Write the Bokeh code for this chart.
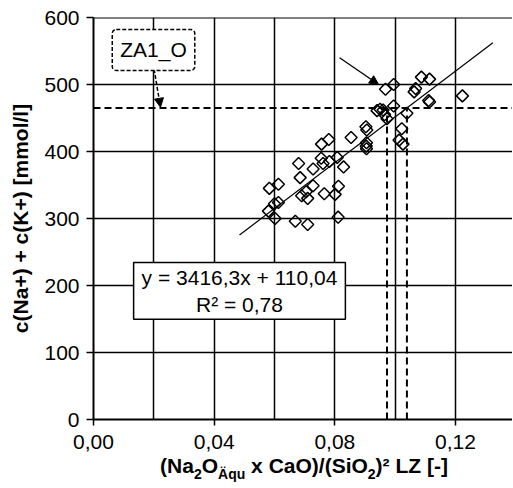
import numpy as np
from bokeh.plotting import figure
from bokeh.layouts import column
from bokeh.models import (Range1d, FixedTicker, CustomJSTickFormatter, Span, Label,
                          Arrow, NormalHead, Div)
from bokeh.embed import file_html
from bokeh.resources import INLINE

# ---- data ----
x_vals = [0.0583, 0.0613, 0.0580, 0.0600, 0.0613, 0.0602, 0.0669, 0.0710,
          0.0680, 0.0685, 0.0690, 0.0710, 0.0705, 0.0728, 0.0728, 0.0756,
          0.0780, 0.0755, 0.0761, 0.0782, 0.0765, 0.0801, 0.0812, 0.0811,
          0.0808, 0.0829, 0.0854, 0.0903, 0.0906, 0.0905, 0.0904, 0.0905,
          0.0940, 0.0950, 0.0968, 0.0995, 0.0995, 0.0973, 0.0965, 0.1022,
          0.1013, 0.1026, 0.1039, 0.1063, 0.1068, 0.1087, 0.1114, 0.1111,
          0.1114, 0.1223, 0.0960]
y_vals = [345, 351, 311, 322, 324, 300, 296, 291,
          382, 361, 334, 330, 340, 374, 349, 411,
          418, 390, 382, 385, 337, 336, 348, 302,
          391, 377, 421, 437, 432, 413, 408, 404,
          461, 463, 493, 500, 468, 449, 455, 434,
          417, 411, 457, 489, 494, 511, 508, 476,
          474, 483, 462]

fit_slope = 3416.3
fit_intercept = 110.04
fit_x = [0.0484, 0.1324]

za1_level = 465
za1_bounds = [0.0973, 0.1039]

x_ticks = [0.0, 0.04, 0.08, 0.12]
x_grid = [0.02, 0.04, 0.06, 0.08, 0.10, 0.12]
y_ticks = [0, 100, 200, 300, 400, 500, 600]
y_grid = [100, 200, 300, 400, 500]

eq_text = "y = 3416,3x + 110,04\nR² = 0,78"
za1_text = "ZA1_O"
y_title = "c(Na+) + c(K+) [mmol/l]"
x_title_html = ('(Na<sub>2</sub>O<sub>Äqu</sub> x CaO)/(SiO<sub>2</sub>)² LZ [-]')

FONT = "Liberation Sans"
W = 512
H_MAIN = 456
H_TITLE = 31
LEFT = 93
FRAME_W = W - LEFT
X_END = FRAME_W / 3016.5  # 0.02 per 60.33 px

p = figure(width=W, height=H_MAIN, output_backend="svg", toolbar_location=None,
           title=None,
           x_range=Range1d(0, X_END), y_range=Range1d(0, 600),
           min_border_left=LEFT, min_border_right=0, min_border_top=17,
           min_border_bottom=H_MAIN - 419)
p.outline_line_color = None
p.background_fill_color = "white"
p.border_fill_color = "white"

# axes
for ax in (p.xaxis, p.yaxis):
    ax.axis_line_color = "black"
    ax.axis_line_width = 2
    ax.major_tick_line_color = "black"
    ax.major_tick_line_width = 1.5
    ax.major_tick_in = 0
    ax.minor_tick_line_color = None
    ax.major_label_text_font = FONT
    ax.major_label_text_font_size = "21px"
    ax.major_label_text_color = "black"

p.xaxis.ticker = FixedTicker(ticks=x_ticks)
p.xaxis.formatter = CustomJSTickFormatter(code="return tick.toFixed(2).replace('.', ',');")
p.xaxis.major_tick_out = 6
p.xaxis.major_label_standoff = 9

p.yaxis.ticker = FixedTicker(ticks=y_ticks)
p.yaxis.major_tick_out = 7
p.yaxis.major_label_standoff = 7
p.yaxis.axis_label = y_title
p.yaxis.axis_label_text_font = FONT
p.yaxis.axis_label_text_font_size = "21px"
p.yaxis.axis_label_text_font_style = "bold"
p.yaxis.axis_label_text_color = "black"
p.yaxis.axis_label_standoff = 9

# grid
p.xgrid.ticker = FixedTicker(ticks=x_grid)
p.ygrid.ticker = FixedTicker(ticks=y_grid)
for g in (p.xgrid, p.ygrid):
    g.grid_line_color = "black"
    g.grid_line_width = 1.5
    g.grid_line_alpha = 1.0

p.add_layout(Span(location=600, dimension="width", line_color="black", line_width=2))

# ZA1_O reference lines
p.segment(x0=[0], y0=[za1_level], x1=[X_END], y1=[za1_level],
          line_color="black", line_width=2, line_dash="7 4")
p.segment(x0=za1_bounds, y0=[0, 0], x1=za1_bounds, y1=[za1_level, za1_level],
          line_color="black", line_width=2, line_dash="7 4")

# regression line
fit_y = [fit_slope * x + fit_intercept for x in fit_x]
p.line(fit_x, fit_y, line_color="black", line_width=1.2)

# points
p.scatter(x_vals, y_vals, marker="square", size=8.5, angle=np.pi / 4,
          fill_color=None, line_color="black", line_width=1.5)

# arrows
p.add_layout(Arrow(end=NormalHead(size=9, fill_color="black", line_color="black"),
                   x_start=0.0816, y_start=540, x_end=0.0945, y_end=500,
                   line_color="black", line_width=1.3))
p.add_layout(Arrow(end=NormalHead(size=9, fill_color="black", line_color="black"),
                   x_start=0.0201, y_start=523, x_end=0.0222, y_end=466,
                   line_color="black", line_width=1.5, line_dash="4 2"))

# text boxes
p.add_layout(Label(x=0.0484, y=192, text=eq_text, text_align="center",
                   text_baseline="middle", text_font=FONT, text_font_size="21px",
                   text_color="black", background_fill_color="white",
                   border_line_color="black", border_line_width=1.5,
                   padding=(8, 3)))
p.add_layout(Label(x=0.0199, y=551.5, text=za1_text, text_align="center",
                   text_baseline="middle", text_font=FONT, text_font_size="21px",
                   text_color="black", background_fill_color="white",
                   border_line_color="black", border_line_width=1.5,
                   border_line_dash="4 2", border_radius=4, padding=(8, 9)))

# ---- x axis title (with subscripts) below the plot ----
sub_style = 'style="font-size:14px; vertical-align:-6px; line-height:0"'
title_html = x_title_html.replace("<sub>", f"<sub {sub_style}>")
t = Div(text=title_html, width=416, height=H_TITLE, margin=(0, 0, 0, 96),
        styles={"font-family": FONT, "font-size": "21px", "font-weight": "bold",
                "color": "black", "text-align": "center", "line-height": "20px",
                "white-space": "nowrap", "width": "416px"})

layout = column(p, t, spacing=0)
open("out.html", "w").write(file_html(layout, INLINE))
